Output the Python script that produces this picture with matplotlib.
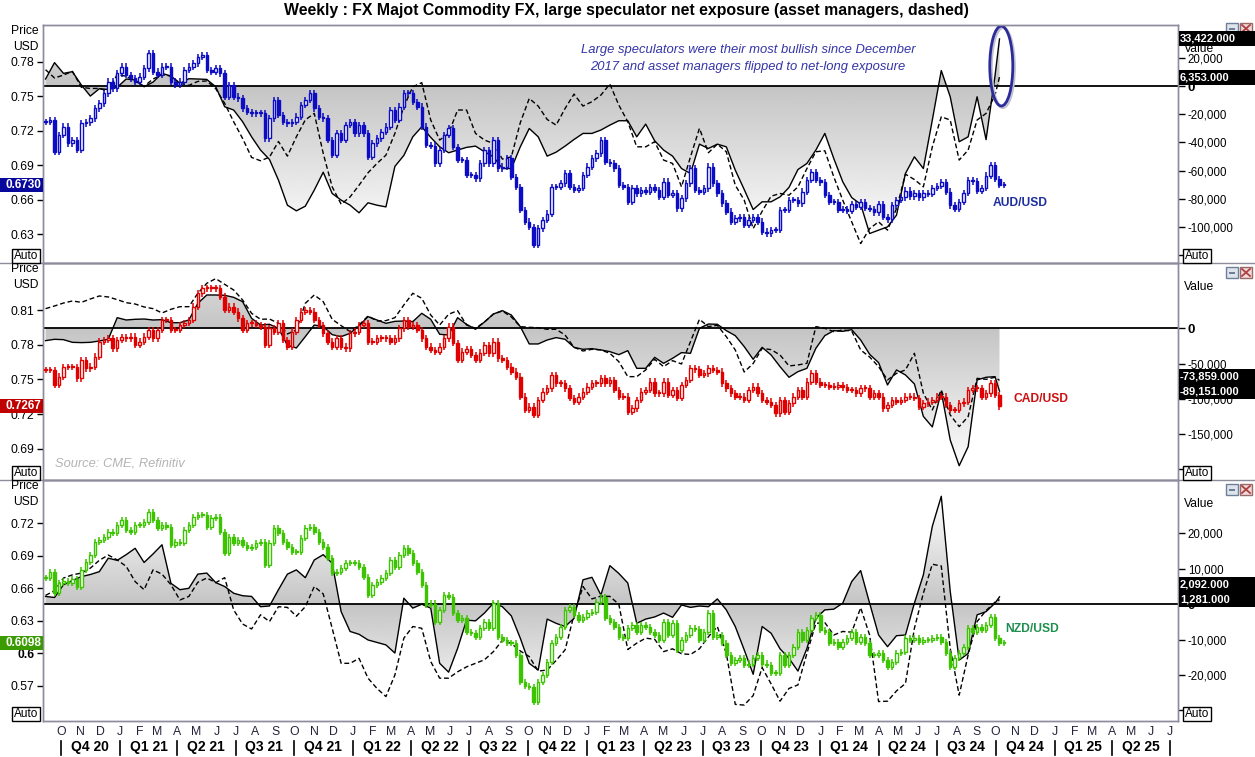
import numpy as np
import pandas as pd
import matplotlib
matplotlib.use("Agg")
import matplotlib.pyplot as plt
import matplotlib.dates as mdates
import matplotlib.transforms as mtransforms
from matplotlib.patches import Rectangle, Ellipse
from matplotlib.lines import Line2D

plt.rcParams['font.family'] = ['Liberation Sans', 'DejaVu Sans']

W, H = 1255, 757

# ---- data (weekly closes from 7 Sep 2020, net positions in thousands of contracts) ----
start = '2020-09-07'

aud_close = [
    0.7278, 0.7293, 0.7017, 0.7162, 0.7235, 0.709, 0.7119, 0.7032, 0.7264, 0.7272,
    0.7307, 0.7394, 0.7438, 0.7525, 0.7626, 0.7568, 0.7699, 0.7757, 0.7684, 0.7655,
    0.7626, 0.767, 0.7742, 0.7872, 0.7713, 0.7684, 0.7757, 0.7757, 0.7626, 0.7597,
    0.7626, 0.7728, 0.7757, 0.7786, 0.7843, 0.7858, 0.7728, 0.7713, 0.7742, 0.7699,
    0.7496, 0.7597, 0.7496, 0.7481, 0.7394, 0.7365, 0.7351, 0.7351, 0.7351, 0.7133,
    0.7307, 0.7467, 0.7336, 0.7278, 0.7264, 0.7278, 0.7322, 0.7423, 0.7467, 0.7525,
    0.7394, 0.7322, 0.7307, 0.7119, 0.6988, 0.7177, 0.7119, 0.7249, 0.7278, 0.7177,
    0.7249, 0.7177, 0.6974, 0.709, 0.7133, 0.7191, 0.7235, 0.738, 0.7293, 0.7409,
    0.7525, 0.7525, 0.7452, 0.7409,
    0.7235, 0.7075, 0.707, 0.6916, 0.7032, 0.7162, 0.722, 0.706, 0.6945, 0.6945,
    0.6814, 0.6814, 0.6786, 0.6916, 0.7032, 0.6916, 0.7119, 0.6872, 0.6887, 0.6959,
    0.68, 0.6713, 0.651, 0.6409, 0.6365, 0.6206, 0.635, 0.6423, 0.648, 0.6713,
    0.6713, 0.6742, 0.6829, 0.6713, 0.6684, 0.6704, 0.6814, 0.6887, 0.6959, 0.7003,
    0.7119, 0.693, 0.6916, 0.6872, 0.6728, 0.6713, 0.6583, 0.6699, 0.6655, 0.6684,
    0.667, 0.6713, 0.6684, 0.6626, 0.6757, 0.664, 0.6655, 0.6525, 0.6612, 0.6742,
    0.6872, 0.6684, 0.667, 0.6699, 0.6887, 0.6742, 0.6655, 0.6568, 0.6496, 0.6409,
    0.6438, 0.6452, 0.638, 0.6423, 0.6452, 0.6409, 0.6322, 0.6307, 0.6336, 0.6336,
    0.651, 0.651, 0.6597, 0.6597, 0.6568, 0.667, 0.6771, 0.6843, 0.6771,
    0.675, 0.664, 0.658, 0.658, 0.651, 0.652, 0.650, 0.656, 0.654, 0.658,
    0.653, 0.652, 0.649, 0.656, 0.645, 0.643, 0.655, 0.660, 0.662, 0.668,
    0.663, 0.666, 0.662, 0.666, 0.665, 0.670, 0.672, 0.675, 0.667, 0.655,
    0.652, 0.658, 0.666, 0.677, 0.676, 0.668, 0.670, 0.681, 0.690, 0.678,
    0.673, 0.673,
]

cad_close = [
    0.7582, 0.758, 0.7453, 0.7525, 0.761, 0.761, 0.761, 0.751, 0.7668, 0.7596,
    0.7611, 0.7697, 0.7827, 0.7841, 0.7856, 0.7769, 0.7841, 0.7864, 0.7856, 0.787,
    0.7798, 0.7827, 0.787, 0.7927, 0.7856, 0.7927, 0.8014, 0.8014, 0.7927, 0.7927,
    0.797, 0.799, 0.8014, 0.8129, 0.8244, 0.8287, 0.8287, 0.8287, 0.8287, 0.8215,
    0.81, 0.8129, 0.8086, 0.8028, 0.7927, 0.7985, 0.7985, 0.797, 0.7956, 0.7798,
    0.7942, 0.7913, 0.7985, 0.7841, 0.7784, 0.7913, 0.8014, 0.8086, 0.81, 0.8086,
    0.8014, 0.797, 0.7899, 0.7827, 0.7784, 0.7856, 0.7784, 0.7769, 0.7899, 0.7913,
    0.797, 0.7985, 0.7827, 0.7827, 0.7856, 0.7856, 0.7856, 0.7827, 0.7856, 0.7942,
    0.8014, 0.7956, 0.797, 0.7927,
    0.7856, 0.7784, 0.7755, 0.774, 0.7784, 0.7856, 0.7956, 0.7813, 0.7668, 0.774,
    0.776, 0.7711, 0.7668, 0.7732, 0.7798, 0.7726, 0.7827, 0.7683, 0.7668, 0.7611,
    0.7568, 0.7524, 0.7352, 0.7237, 0.7266, 0.7194, 0.7323, 0.7395, 0.7424, 0.7539,
    0.7467, 0.7467, 0.7424, 0.7338, 0.7309, 0.7352, 0.7395, 0.7438, 0.7467, 0.7467,
    0.751, 0.7467, 0.7496, 0.741, 0.7352, 0.7352, 0.7222, 0.7251, 0.7323, 0.7395,
    0.7409, 0.7482, 0.738, 0.738, 0.7482, 0.7366, 0.7409, 0.7338, 0.7453, 0.7496,
    0.7597, 0.7588, 0.7539, 0.7553, 0.7597, 0.7582, 0.7568, 0.7467, 0.7424, 0.738,
    0.7352, 0.7352, 0.7323, 0.741, 0.7438, 0.738, 0.7323, 0.7309, 0.728, 0.7208,
    0.7323, 0.7222, 0.7294, 0.7352, 0.741, 0.7352, 0.7482, 0.7553, 0.7482,
    0.7453, 0.7453, 0.7438, 0.7438, 0.7453, 0.7432, 0.741, 0.741, 0.738, 0.7424,
    0.7424, 0.7352, 0.738, 0.7352, 0.7251, 0.728, 0.7323, 0.7309, 0.7323, 0.7352,
    0.7352, 0.7338, 0.7266, 0.7294, 0.7309, 0.7323, 0.7352, 0.7352, 0.728, 0.7237,
    0.7237, 0.7294, 0.7309, 0.741, 0.7424, 0.7424, 0.7352, 0.738, 0.7467, 0.7366,
    0.7267,
]

nzd_close = [
    0.6693, 0.6754, 0.6554, 0.6647, 0.6668, 0.6647, 0.6687, 0.6616, 0.677, 0.684,
    0.6908, 0.7031, 0.7046, 0.7077, 0.7123, 0.7108, 0.7185, 0.7231, 0.7139, 0.7123,
    0.7185, 0.7185, 0.7215, 0.7308, 0.7231, 0.7154, 0.7185, 0.7169, 0.70, 0.7031,
    0.7015, 0.7138, 0.7185, 0.7262, 0.7277, 0.7277, 0.717, 0.7246, 0.7262, 0.7123,
    0.6923, 0.7077, 0.7015, 0.7046, 0.70, 0.6969, 0.6985, 0.7015, 0.7031, 0.6815,
    0.7015, 0.7154, 0.7108, 0.7031, 0.6985, 0.6938, 0.6938, 0.7062, 0.7154, 0.7169,
    0.7123, 0.7031, 0.6985, 0.6877, 0.6738, 0.6754, 0.6785, 0.683, 0.6831, 0.6831,
    0.68, 0.6708, 0.6539, 0.6631, 0.6662, 0.6693, 0.6739, 0.6862, 0.68, 0.6908,
    0.697, 0.6923, 0.6831, 0.6754,
    0.6632, 0.6447, 0.646, 0.6293, 0.64, 0.6539, 0.6524, 0.637, 0.6308, 0.6324,
    0.62, 0.6185, 0.6155, 0.6231, 0.6293, 0.6231, 0.6462, 0.6155, 0.6124, 0.6093,
    0.6093, 0.5985, 0.574, 0.5698, 0.5693, 0.5555, 0.574, 0.5801, 0.5924, 0.6093,
    0.6155, 0.6247, 0.6401, 0.6431, 0.6354, 0.6308, 0.6339, 0.637, 0.6385, 0.6478,
    0.6524, 0.6324, 0.6293, 0.6247, 0.6155, 0.6139, 0.6231, 0.6262, 0.6201, 0.6262,
    0.6247, 0.6201, 0.617, 0.6124, 0.6293, 0.617, 0.6277, 0.6032, 0.6124, 0.617,
    0.6231, 0.6226, 0.6124, 0.6201, 0.637, 0.6155, 0.617, 0.6093, 0.5985, 0.5908,
    0.594, 0.5954, 0.5893, 0.5907, 0.5954, 0.5985, 0.5907, 0.5893, 0.5816, 0.5816,
    0.5985, 0.5893, 0.5985, 0.6063, 0.62, 0.6124, 0.6216, 0.6324, 0.6354,
    0.6216, 0.62, 0.6093, 0.6109, 0.6063, 0.6109, 0.6139, 0.62, 0.6109, 0.6155,
    0.6093, 0.5985, 0.5985, 0.6, 0.5939, 0.5878, 0.5924, 0.6, 0.6016, 0.6139,
    0.6124, 0.6139, 0.6109, 0.6124, 0.6124, 0.6139, 0.6155, 0.6109, 0.6, 0.5878,
    0.5954, 0.6, 0.6063, 0.6231, 0.6201, 0.6247, 0.6216, 0.6262, 0.6339, 0.6139,
    0.6093, 0.6098,
]

# positioning, sampled every second week (last value = latest week)
aud_spec = [
    5.0, 16.6, 9.0, 10.2, 0.7, -7.1, -1.9, -2.4, -0.9, 5.0,
    4.3, -0.5, 2.8, 9.0, 7.1, 1.9, 5.2, 5.0, 4.7, -0.5,
    -14.7, -17.0, -25.3, -36.0, -45.4, -52.1, -66.7, -84.5, -88.5, -85.2,
    -73.8, -61.1, -76.2, -80.9, -84.5, -89.9, -82.8, -84.5, -85.7, -57.0,
    -49.2, -36.0,
    -28.9, -36.4, -43.1, -47.3, -45.4, -43.5, -42.6, -46.6, -50.2, -58.5,
    -58.5, -43.1, -30.1, -36.0, -49.7, -46.9, -42.6, -37.9, -33.6, -33.6,
    -31.2, -27.7, -24.6, -24.6, -36.0, -27.0, -38.8, -45.4, -49.7, -58.5,
    -62.0, -41.2, -44.3, -41.2, -43.1, -59.6, -73.4, -87.6, -82.1, -82.1,
    -78.6, -71.9, -59.2, -54.9, -45.4,
    -33.6, -51.4, -67.9, -79.1, -83.8, -104.6, -102.2, -99.9, -91.6, -62.0,
    -50.2, -58.5, -24.1, 11.0, -7.6, -39.5, -36.0, -7.6, -38.0, 7.3,
    33.422,
]
aud_am = [
    11.6, 5.7, 7.8, 10.4, -0.9, -1.7, -1.7, -3.6, 8.3, 6.9,
    3.6, -0.2, 5.0, 8.0, 7.1, 1.9, 0.5, 3.3, 3.6, -1.9,
    -12.3, -25.3, -37.2, -50.6, -53.0, -50.4, -39.3, -49.7, -36.0, -24.0,
    -19.4, -47.8, -71.5, -83.8, -78.6, -70.3, -61.5, -54.9, -49.0, -33.6,
    -14.7, -0.5,
    2.4, -24.1, -38.3, -33.6, -17.0, -17.0, -33.6, -38.3, -40.7, -51.8,
    -50.2, -26.0, -8.8, -14.2, -23.7, -27.7, -15.9, -5.7, -14.2, -11.1,
    -6.4, 1.4, -13.5, -25.3, -43.1, -43.1, -39.5, -52.5, -54.9, -71.5,
    -50.2, -30.0, -47.3, -41.2, -46.6, -70.3, -80.9, -101.1, -88.8, -78.1,
    -76.2, -77.4, -71.5, -58.5, -46.6,
    -45.9, -64.4, -80.9, -96.3, -111.7, -101.1, -96.3, -102.2, -86.9, -62.5,
    -66.3, -71.5, -43.1, -21.8, -24.1, -52.5, -45.4, -24.1, -19.4, -6.4,
    6.353,
]
cad_spec = [
    -17.5, -15.6, -16.1, -19.9, -20.3, -19.9, -18.0, -15.6, 15.1, 11.8,
    12.8, 13.2, 11.8, 12.3, 8.0, 8.0, 11.8, 35.5, 47.3, 47.3,
    46.8, 44.0, 37.8, 14.2, 4.7, 5.7, 0.0, -24.1, -27.9, -11.8,
    4.7, 2.4, -9.0, -11.8, -7.1, 3.3, 16.6, 11.8, 7.1, 9.9,
    10.4, 9.5,
    21.3, 12.8, -8.5, -9.5, 15.1, 5.7, -1.4, 9.0, 20.3, 25.1,
    18.9, 2.4, -22.2, -22.2, -16.6, -13.2, -15.6, -27.0, -29.8, -28.9,
    -30.7, -33.1, -37.4, -31.7, -56.8, -56.8, -41.2, -49.7, -42.6, -34.5,
    -35.5, 0.0, 6.1, 5.7, -3.3, -10.4, -26.0, -44.0, -27.0, -37.8,
    -54.4, -69.5, -61.5, -56.8, -28.4,
    -10.4, -3.3, -4.3, -1.9, -16.6, -36.9, -48.7, -80.4, -59.1, -66.2,
    -79.0, -125.0, -140.0, -89.9, -158.5, -195.0, -168.0, -73.3, -69.5, -68.6,
    -89.151,
]
cad_am = [
    27.9, 31.7, 35.9, 38.8, 36.9, 41.6, 45.9, 44.5, 40.7, 36.4,
    34.5, 30.3, 27.9, 21.8, 27.0, 30.7, 30.7, 49.7, 63.9, 70.5,
    62.4, 54.4, 40.2, 21.3, 12.8, 13.2, 7.1, -8.0, -2.4, 35.5,
    47.3, 37.8, 12.8, 3.8, -4.7, 4.7, 17.5, 10.4, 10.9, 15.1,
    33.1, 49.7,
    42.6, 18.9, 4.7, 20.0, 25.0, 4.7, 0.0, 9.0, 20.3, 24.6,
    16.1, 2.4, 1.4, 0.9, -1.4, -1.4, -9.5, -27.0, -32.2, -29.8,
    -30.7, -35.5, -47.3, -68.6, -68.6, -59.1, -44.0, -54.4, -45.9, -50.6,
    -18.9, 12.8, 2.4, 4.3, -11.8, -30.7, -62.0, -50.0, -28.4, -30.3,
    -37.8, -53.4, -52.0, -49.7, 2.4,
    0.0, -4.7, -2.4, -3.8, -30.7, -40.7, -54.4, -73.3, -63.9, -59.1,
    -35.5, -92.2, -115.9, -87.5, -123.0, -139.5, -125.3, -71.0, -72.4, -69.5,
    -73.859,
]
nzd_spec = [
    2.2, 1.9, 5.5, 6.7, 7.8, 8.4, 9.2, 13.0, 12.4, 14.0,
    15.8, 11.8, 14.2, 16.8, 5.9, 4.1, 4.5, 8.5, 8.8, 6.1,
    5.0, 3.1, 2.4, 2.2, -0.7, -0.5, 4.1, 8.5, 9.7, 7.5,
    12.5, 14.0, 11.6, -2.1, -7.7, -8.5, -10.1, -10.8, -11.5, -13.8,
    1.7, -1.1,
    0.0, -1.1, -16.7, -19.2, -12.5, -4.5, -4.7, -2.5, 0.3, -0.7,
    -3.3, -9.6, -16.7, -18.6, -4.2, -5.4, -6.3, -4.0, 6.9, 7.6,
    2.6, 10.9, 8.7, 6.0, -5.4, -4.2, -3.6, -2.5, -3.7, -0.2,
    -0.9, -0.5, -0.7, 1.5, -1.6, -6.3, -12.9, -19.8, -6.3, -8.2,
    -12.6, -15.3, -18.9, -12.5, -4.0,
    -1.6, -1.4, 0.3, 6.4, 9.5, 0.3, -8.7, -12.0, -8.9, -8.7,
    0.3, 8.3, 22.0, 30.5, 3.6, -15.8, -13.9, -3.0, -2.1, 0.3,
    2.092,
]
nzd_am = [
    2.5, 3.8, 7.4, 8.3, 8.8, 10.2, 12.4, 13.9, 12.5, 10.7,
    6.4, 4.1, 9.7, 8.5, 5.5, 1.2, 2.2, 6.2, 7.4, 6.1,
    7.5, -1.6, -5.6, -7.0, -3.0, -4.9, -0.7, -0.9, -3.4, -0.7,
    5.0, 2.9, -6.8, -16.7, -16.7, -15.3, -20.9, -23.8, -26.1, -20.0,
    -9.6, -6.3,
    -6.8, -16.2, -20.9, -20.9, -19.1, -17.7, -16.7, -15.7, -13.4, -10.2,
    -11.1, -13.2, -14.8, -18.9, -18.6, -15.9, -12.9, -3.0, 5.0, 1.5,
    2.3, 2.2, 0.0, -12.8, -11.0, -9.6, -9.9, -13.4, -12.6, -14.0,
    -14.2, -12.6, -9.2, -6.3, -13.9, -28.3, -28.5, -25.8, -17.9, -22.5,
    -27.4, -23.8, -22.8, -13.9, -5.4,
    -5.2, -8.7, -7.7, -7.9, -1.0, -8.7, -27.5, -27.4, -24.5, -22.4,
    -6.8, 3.1, 11.3, 10.8, -12.5, -25.7, -14.3, -4.9, -1.8, 0.6,
    1.281,
]

weeks = pd.date_range(start, periods=215, freq='7D')
line_dates = weeks[list(range(0, 213, 2)) + [213]]

x_left = pd.Timestamp('2020-09-03')
x_right = pd.Timestamp('2025-07-13')

fig = plt.figure(figsize=(W / 100, H / 100), dpi=100)


def fx(px):
    return px / W


def fy(py):
    return 1 - py / H


GRAY = '#8c8c9c'

panels = [
    dict(close=aud_close, spec=aud_spec, am=aud_am, top=25, bot=263,
         plim=(0.605, 0.8119), vlim=(-125.5, 43.3),
         pticks=[0.63, 0.66, 0.69, 0.72, 0.75, 0.78],
         plabels=['0.63', '0.66', '0.69', '0.72', '0.75', '0.78'],
         vticks=[20, 0, -20, -40, -60, -80, -100, -120],
         vlabels=['20,000', '0', '-20,000', '-40,000', '-60,000', '-80,000', '-100,000', ''],
         color='#0c0cc4', box='#08089c', span=112,
         name='AUD/USD', ncol='#1c2ea0', nxy=(993, 203),
         last='0.6730', spec_lbl='33,422.000', am_lbl='6,353.000'),
    dict(close=cad_close, spec=cad_spec, am=cad_am, top=263, bot=480,
         plim=(0.6632, 0.8506), vlim=(-215.3, 92.7),
         pticks=[0.69, 0.72, 0.75, 0.78, 0.81],
         plabels=['0.69', '0.72', '0.75', '0.78', '0.81'],
         vticks=[0, -50, -100, -150, -200],
         vlabels=['0', '-50,000', '-100,000', '-150,000', ''],
         color='#e00000', box='#c00000', span=205,
         name='CAD/USD', ncol='#cc1111', nxy=(1014, 399),
         last='0.7267', spec_lbl='-89,151.000', am_lbl='-73,859.000'),
    dict(close=nzd_close, spec=nzd_spec, am=nzd_am, top=480, bot=721,
         plim=(0.5377, 0.7599), vlim=(-33.0, 35.1),
         pticks=[0.57, 0.60, 0.63, 0.66, 0.69, 0.72],
         plabels=['0.57', '0.6', '0.63', '0.66', '0.69', '0.72'],
         vticks=[20, 10, 0, -10, -20, -30],
         vlabels=['20,000', '10,000', '0', '-10,000', '-20,000', ''],
         color='#3cc400', box='#3a9c00', span=31,
         name='NZD/USD', ncol='#1e8f4e', nxy=(1005, 629),
         last='0.6098', spec_lbl='2,092.000', am_lbl='1,281.000'),
]


def draw_candles(ax, closes, color):
    c = np.asarray(closes)
    o = np.r_[c[0], c[:-1]]
    d = weeks[:len(c)]
    lo = np.minimum(o, c)
    hi = np.maximum(o, c)
    ax.vlines(d, lo - 0.0028, hi + 0.0028, color=color, lw=1.1, zorder=2)
    body = np.maximum(hi - lo, 0.0009)
    up = c > o
    ax.bar(d[up], body[up], bottom=lo[up], width=3.9, color='white',
           edgecolor=color, linewidth=1.0, zorder=3)
    ax.bar(d[~up], body[~up], bottom=lo[~up], width=3.9, color=color,
           edgecolor=color, linewidth=1.0, zorder=3)


def grad_fill(axv, vals, span):
    poly = axv.fill_between(line_dates, 0, vals, facecolor='none', edgecolor='none')
    path = poly.get_paths()[0]
    lo, hi = axv.get_ylim()
    yy = np.linspace(lo, hi, 400)
    g = 0.77 + 0.23 * np.clip(np.abs(yy) / span, 0, 1)
    img = np.repeat(g[:, None], 2, axis=1)
    x0, x1 = mdates.date2num(x_left), mdates.date2num(x_right)
    im = axv.imshow(img, extent=(x0, x1, lo, hi), origin='lower', aspect='auto',
                    cmap='gray', vmin=0, vmax=1, interpolation='bilinear', zorder=1)
    im.set_clip_path(path, transform=axv.transData)


def to_fig_y(ax, v):
    return fig.transFigure.inverted().transform(ax.transData.transform((0, v)))[1]


axes = []
for p in panels:
    rect = [fx(43), fy(p['bot']), fx(1178) - fx(43), fy(p['top']) - fy(p['bot'])]
    ax = fig.add_axes(rect)
    axv = ax.twinx()
    ax.set_zorder(axv.get_zorder() + 1)
    ax.patch.set_visible(False)

    draw_candles(ax, p['close'], p['color'])

    axv.plot(line_dates, p['spec'], color='black', lw=1.0, zorder=3)
    axv.plot(line_dates, p['am'], color='black', lw=1.0, ls=(0, (3.5, 2.0)), zorder=3)
    axv.axhline(0, color='black', lw=1.3, zorder=2)

    for a in (ax, axv):
        a.set_xlim(x_left, x_right)
        a.set_xticks([])
        for s in a.spines.values():
            s.set_color(GRAY)
            s.set_linewidth(1.0)
    ax.set_ylim(*p['plim'])
    axv.set_ylim(*p['vlim'])
    grad_fill(axv, p['spec'], p['span'])
    axv.set_xlim(x_left, x_right)
    axv.set_ylim(*p['vlim'])

    ax.set_yticks(p['pticks'])
    ax.set_yticklabels(p['plabels'])
    ax.tick_params(axis='y', direction='out', length=4, width=1, color='black',
                   labelsize=8.7, pad=2)
    axv.set_yticks(p['vticks'])
    axv.set_yticklabels(p['vlabels'])
    axv.tick_params(axis='y', direction='out', length=5, width=1, color='black',
                    labelsize=8.3, pad=2)
    for t in ax.get_yticklabels():
        if t.get_text() == '0.6':
            t.set_fontweight('bold')
    for t in axv.get_yticklabels():
        if t.get_text() == '0':
            t.set_fontweight('bold')
            t.set_fontsize(9.5)

    # left labels
    fig.text(fx(39), fy(p['top'] + 6), 'Price', ha='right', va='center', fontsize=8.7)
    fig.text(fx(39), fy(p['top'] + 22), 'USD', ha='right', va='center', fontsize=8.7)
    fig.text(fx(1184), fy(p['top'] + 24), 'Value', ha='left', va='center', fontsize=8.7)

    # pair name
    fig.text(fx(p['nxy'][0]), fy(p['nxy'][1]), p['name'], color=p['ncol'],
             fontweight='bold', fontsize=8.7, va='center')

    # Auto boxes
    for xa in (26, 1197):
        fig.text(fx(xa), fy(p['bot'] - 7), 'Auto', ha='center', va='center', fontsize=8.5,
                 bbox=dict(boxstyle='square,pad=0.12', fc='white', ec='black', lw=1), zorder=12)

    # window icons
    iy = p['top'] - 2 if p['top'] == 25 else p['top'] + 4
    fig.add_artist(Rectangle((fx(1226), fy(iy + 11)), 12 / W, 11 / H, transform=fig.transFigure,
                             fc='#dde4ec', ec='#6d7f99', lw=1, zorder=9))
    fig.add_artist(Rectangle((fx(1229), fy(iy + 7)), 6 / W, 2 / H, transform=fig.transFigure,
                             fc='#6d7f99', ec='none', zorder=9))
    fig.add_artist(Rectangle((fx(1240), fy(iy + 11)), 12 / W, 11 / H, transform=fig.transFigure,
                             fc='#f0dada', ec='#9a6a6a', lw=1, zorder=9))
    fig.add_artist(Line2D([fx(1242), fx(1250)], [fy(iy + 2), fy(iy + 9)], color='#b04040', lw=1.3, zorder=9))
    fig.add_artist(Line2D([fx(1242), fx(1250)], [fy(iy + 9), fy(iy + 2)], color='#b04040', lw=1.3, zorder=9))

    # latest price box
    yl = to_fig_y(ax, p['close'][-1])
    fig.add_artist(Rectangle((0, yl - 7 / H), fx(43), 14 / H, transform=fig.transFigure,
                             fc=p['box'], ec='none', zorder=10))
    fig.text(fx(41), yl, p['last'], ha='right', va='center', color='white',
             fontsize=8.5, fontweight='bold', zorder=11)

    # latest positioning boxes
    ys = to_fig_y(axv, p['spec'][-1])
    ya = to_fig_y(axv, p['am'][-1])
    if abs(ys - ya) < 15 / H:
        if ys >= ya:
            ys = ya + 15 / H
        else:
            ya = ys + 15 / H
    for yv, lbl in ((ys, p['spec_lbl']), (ya, p['am_lbl'])):
        fig.add_artist(Rectangle((fx(1179), yv - 7.5 / H), 1 - fx(1179), 15 / H,
                                 transform=fig.transFigure, fc='black', ec='none', zorder=10))
        fig.text(fx(1180), yv, lbl, ha='left', va='center', color='white',
                 fontsize=8, fontweight='bold', zorder=11)

    axes.append((ax, axv))

# panel separators
for yy in (263, 480):
    fig.add_artist(Line2D([0, 1], [fy(yy), fy(yy)], color=GRAY, lw=1))

# title and notes
fig.text(fx(626), fy(11), 'Weekly : FX Majot Commodity FX, large speculator net exposure '
         '(asset managers, dashed)', ha='center', va='center', fontweight='bold', fontsize=11.4)
fig.text(fx(748), fy(50), 'Large speculators were their most bullish since December',
         ha='center', va='center', style='italic', color='#3434a8', fontsize=9.4)
fig.text(fx(748), fy(67), '2017 and asset managers flipped to net-long exposure',
         ha='center', va='center', style='italic', color='#3434a8', fontsize=9.4)
fig.text(fx(55), fy(464), 'Source: CME, Refinitiv', ha='left', va='center',
         style='italic', color='#b4b4b4', fontsize=9.3)

ax1v = axes[0][1]
ec = weeks[0] + pd.Timedelta(days=213.4 * 7)
ax1v.add_patch(Ellipse((mdates.date2num(ec), 14.2), width=36, height=56.7,
                       fill=False, ec='#c0c0d0', lw=2.2, zorder=5,
                       transform=mtransforms.offset_copy(ax1v.transData, fig=fig, x=1.5, y=-1.5, units='dots')))
ax1v.add_patch(Ellipse((mdates.date2num(ec), 14.2), width=36, height=56.7,
                       fill=False, ec='#2b2b9a', lw=2.0, zorder=6))

# bottom date axis
ax3 = axes[2][0]
trans = mtransforms.blended_transform_factory(ax3.transData, fig.transFigure)
for m in pd.date_range('2020-10-01', '2025-07-01', freq='MS'):
    ax3.text(m, fy(732), 'JFMAMJJASOND'[m.month - 1], transform=trans, ha='center',
             va='center', fontsize=8.8, color='#22223a', clip_on=False)
for q in pd.date_range('2020-10-01', '2025-07-01', freq='QS'):
    ax3.add_line(Line2D([q, q], [fy(741), fy(755)], transform=trans, color='black',
                        lw=1.2, clip_on=False))
    if q < pd.Timestamp('2025-07-01'):
        mid = q + pd.Timedelta(days=45)
        ax3.text(mid, fy(747), 'Q%d %02d' % ((q.month - 1) // 3 + 1, q.year % 100),
                 transform=trans, ha='center', va='center', fontsize=10,
                 fontweight='bold', clip_on=False)

fig.savefig('out.png', dpi=100)
